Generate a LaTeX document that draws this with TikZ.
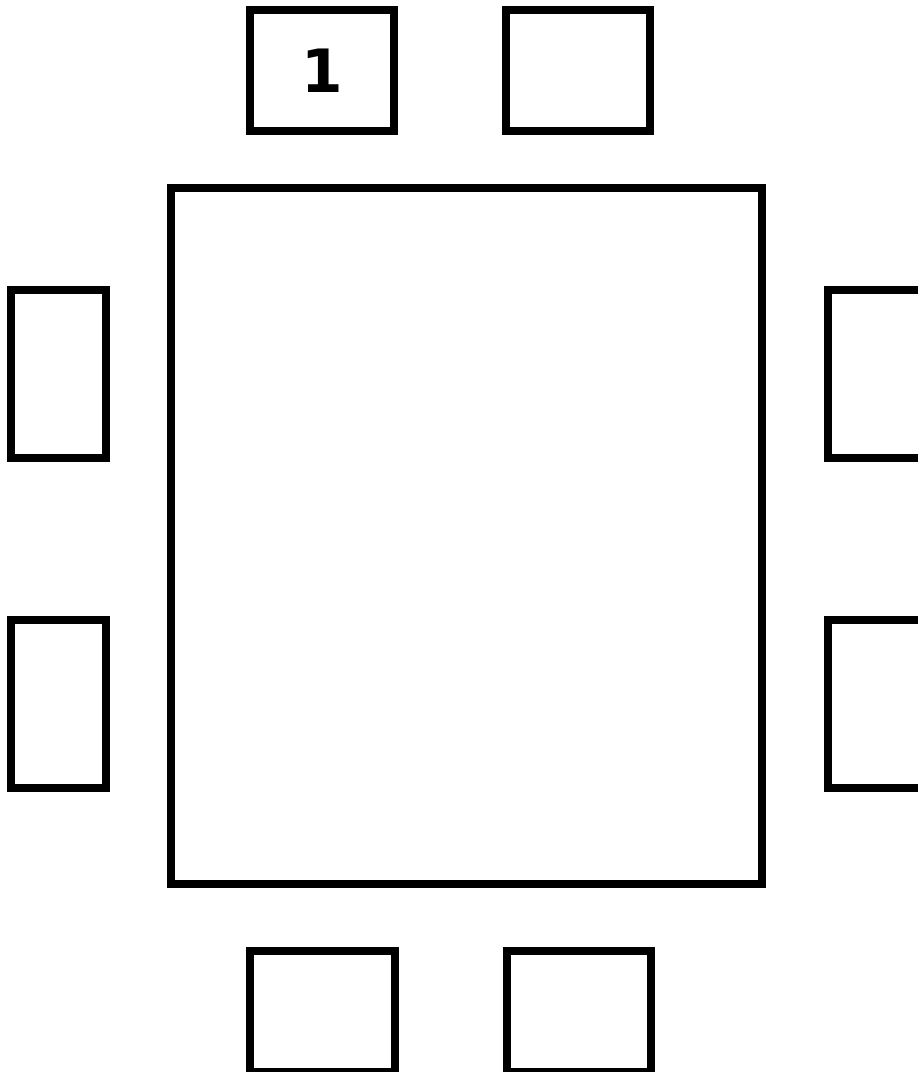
\documentclass[tikz,border=0pt]{standalone}
\usepackage{fontspec}
\setsansfont{DejaVu Sans}
\begin{document}
\begin{tikzpicture}[x=0.02cm,y=-0.02cm,line join=miter]
	\tikzset{every node/.style={inner sep=0pt,outer sep=0pt}}
	\tikzset{seat/.style={draw,line width=0.16cm,rectangle,minimum width=2.9cm,minimum height=2.43cm}}
	\tikzset{sideseat/.style={seat,minimum width=1.9cm,minimum height=3.36cm}}
	\clip (0,0) rectangle (918,1072);
	% table
	\node[draw,line width=0.16cm,minimum width=11.83cm,minimum height=13.92cm] (table) at (466.75,536) {};
	% chairs
	\node[seat,font=\sffamily\bfseries\fontsize{34}{34}\selectfont] (top1) at (322,70.5) {1};
	\node[seat] (top2) at (578,70.5) {};
	\node[sideseat] (left1) at (58.5,374) {};
	\node[sideseat] (left2) at (58.5,704) {};
	\node[sideseat] (right1) at (875.5,374) {};
	\node[sideseat] (right2) at (875.5,704) {};
	\node[seat] (bottom1) at (322.5,1011.5) {};
	\node[seat] (bottom2) at (579,1011.5) {};
\end{tikzpicture}
\end{document}
